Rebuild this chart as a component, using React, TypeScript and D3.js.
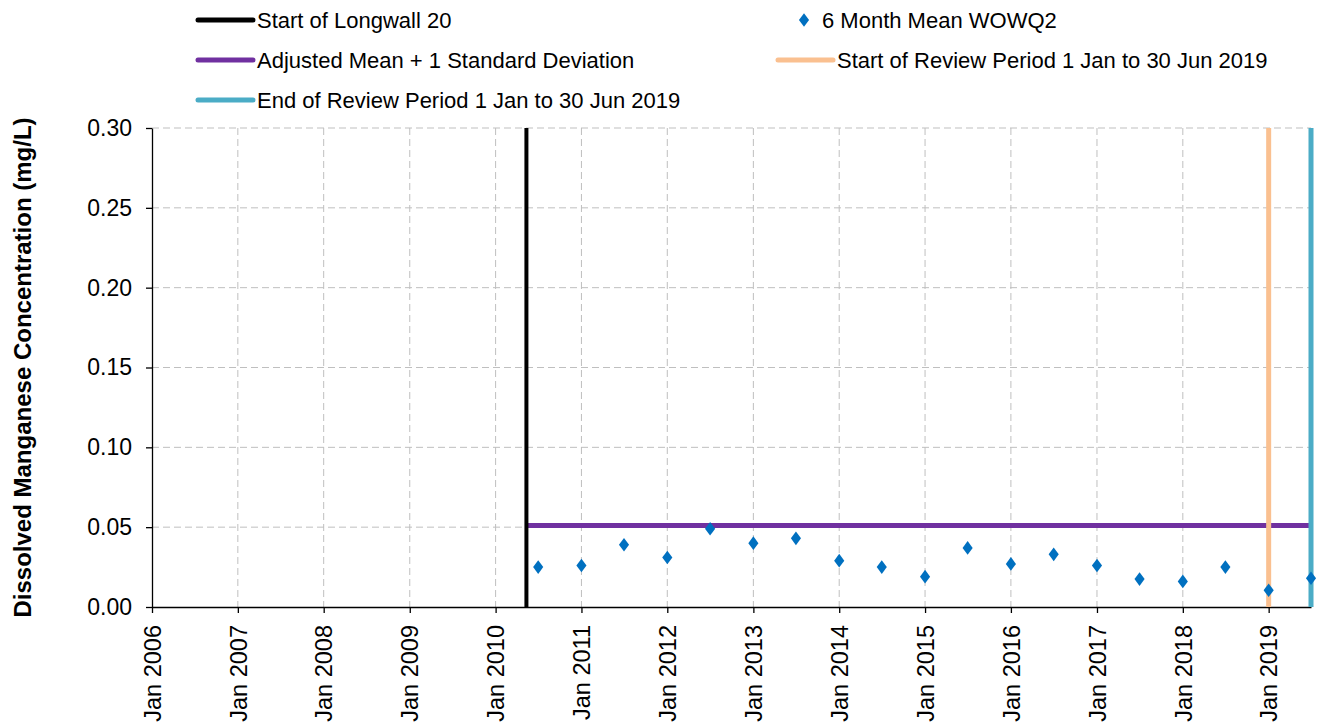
import { useEffect, useRef } from "react";
import * as d3 from "d3";

// Tick years shown on the x axis
const tickYears = [2006, 2007, 2008, 2009, 2010, 2011, 2012, 2013, 2014, 2015, 2016, 2017, 2018, 2019];
const yTicks = [0, 0.05, 0.1, 0.15, 0.2, 0.25, 0.3];

// 6 month means (WOWQ2)
const meanDates = [
  "2010-07-01", "2011-01-01", "2011-07-01", "2012-01-01", "2012-07-01",
  "2013-01-01", "2013-07-01", "2014-01-01", "2014-07-01", "2015-01-01",
  "2015-07-01", "2016-01-01", "2016-07-01", "2017-01-01", "2017-07-01",
  "2018-01-01", "2018-07-01", "2019-01-01", "2019-06-30",
];
const meanValues = [
  0.025, 0.026, 0.039, 0.031, 0.049,
  0.040, 0.043, 0.029, 0.025, 0.019,
  0.037, 0.027, 0.033, 0.026, 0.0175,
  0.016, 0.025, 0.0105, 0.018,
];

const longwallStart = "2010-05-12";
const reviewStart = "2019-01-01";
const reviewEnd = "2019-06-30";
const triggerValue = 0.051;

// diamond marker, a bit taller than wide
const diamondType = {
  draw(ctx: any, size: number) {
    const w = Math.sqrt(size) * 0.55;
    const h = w * 1.35;
    ctx.moveTo(0, -h);
    ctx.lineTo(w, 0);
    ctx.lineTo(0, h);
    ctx.lineTo(-w, 0);
    ctx.closePath();
  },
};

const App = () => {
  const svgRef = useRef<SVGSVGElement>(null);

  useEffect(() => {
    const W = 1324;
    const H = 726;
    const margin = { top: 128, right: 13, bottom: 119, left: 152 };
    const width = W - margin.left - margin.right;
    const height = H - margin.top - margin.bottom;
    const font = "Arial, 'Liberation Sans', sans-serif";
    const parse = d3.utcParse("%Y-%m-%d");

    d3.select(svgRef.current).selectAll("*").remove();

    const root = d3
      .select(svgRef.current)
      .attr("width", W)
      .attr("height", H)
      .style("font-family", font);

    const svg = root.append("g").attr("transform", `translate(${margin.left},${margin.top})`);

    const x = d3
      .scaleUtc()
      .domain([new Date(Date.UTC(2006, 0, 1)), parse(reviewEnd)!])
      .range([0, width]);

    const y = d3.scaleLinear().domain([0, 0.3]).range([height, 0]);

    const tickDates = tickYears.map((yr) => new Date(Date.UTC(yr, 0, 1)));

    // grid lines
    svg
      .append("g")
      .selectAll("line.h")
      .data(yTicks.filter((d) => d > 0))
      .enter()
      .append("line")
      .attr("x1", 0)
      .attr("x2", width)
      .attr("y1", (d) => y(d))
      .attr("y2", (d) => y(d))
      .attr("stroke", "#bfbfbf")
      .attr("stroke-width", 1)
      .attr("stroke-dasharray", "7,4");

    svg
      .append("g")
      .selectAll("line.v")
      .data(tickDates.slice(1))
      .enter()
      .append("line")
      .attr("x1", (d) => x(d))
      .attr("x2", (d) => x(d))
      .attr("y1", 0)
      .attr("y2", height)
      .attr("stroke", "#bfbfbf")
      .attr("stroke-width", 1)
      .attr("stroke-dasharray", "7,4");

    // X axis
    const xAxis = svg
      .append("g")
      .attr("transform", `translate(0,${height})`)
      .call(
        d3
          .axisBottom(x)
          .tickValues(tickDates)
          .tickSize(6)
          .tickSizeOuter(0)
          .tickFormat((d) => `Jan ${(d as Date).getUTCFullYear()}`)
      );
    xAxis.select(".domain").attr("stroke", "#000").attr("stroke-width", 1.3);
    xAxis.selectAll("line").attr("stroke", "#000").attr("stroke-width", 1.3);
    xAxis
      .selectAll("text")
      .attr("transform", "rotate(-90)")
      .attr("text-anchor", "end")
      .attr("x", -18)
      .attr("y", 0)
      .attr("dy", "0.35em")
      .attr("fill", "#000")
      .style("font-family", font)
      .style("font-size", "23.5px");

    // Y axis
    const yAxis = svg
      .append("g")
      .call(
        d3
          .axisLeft(y)
          .tickValues(yTicks)
          .tickSize(6)
          .tickSizeOuter(0)
          .tickFormat(d3.format(".2f"))
      );
    yAxis.select(".domain").attr("stroke", "#000").attr("stroke-width", 1.3);
    yAxis.selectAll("line").attr("stroke", "#000").attr("stroke-width", 1.3);
    yAxis
      .selectAll("text")
      .attr("x", -20)
      .attr("fill", "#000")
      .style("font-family", font)
      .style("font-size", "23px");

    root
      .append("text")
      .attr("transform", `translate(23,${margin.top + height / 2}) rotate(-90)`)
      .attr("text-anchor", "middle")
      .attr("dy", "0.35em")
      .style("font-size", "24px")
      .style("font-weight", "bold")
      .attr("fill", "#000")
      .text("Dissolved Manganese Concentration (mg/L)");

    // trigger level line
    svg
      .append("line")
      .attr("x1", x(parse(longwallStart)!))
      .attr("x2", width)
      .attr("y1", y(triggerValue))
      .attr("y2", y(triggerValue))
      .attr("stroke", "#7030a0")
      .attr("stroke-width", 5);

    // vertical markers
    const markers = [
      { date: longwallStart, color: "#000000", w: 4 },
      { date: reviewStart, color: "#fac090", w: 5 },
      { date: reviewEnd, color: "#4bacc6", w: 5 },
    ];
    svg
      .selectAll("line.marker")
      .data(markers)
      .enter()
      .append("line")
      .attr("x1", (d) => x(parse(d.date)!))
      .attr("x2", (d) => x(parse(d.date)!))
      .attr("y1", 0)
      .attr("y2", height)
      .attr("stroke", (d) => d.color)
      .attr("stroke-width", (d) => d.w);

    // 6 month means
    const diamond = d3.symbol().type(diamondType as any).size(85);
    svg
      .selectAll("path.pt")
      .data(meanDates.map((d, i) => ({ date: parse(d)!, value: meanValues[i] })))
      .enter()
      .append("path")
      .attr("d", diamond)
      .attr("transform", (d) => `translate(${x(d.date)},${y(d.value)})`)
      .attr("fill", "#0070c0");

    // legend
    const legendItems = [
      { label: "Start of Longwall 20", color: "#000000", kind: "line", lx: 198, ly: 20 },
      { label: "6 Month Mean WOWQ2", color: "#0070c0", kind: "point", lx: 778, ly: 20 },
      { label: "Adjusted Mean + 1 Standard Deviation", color: "#7030a0", kind: "line", lx: 198, ly: 60 },
      { label: "Start of Review Period 1 Jan to 30 Jun 2019", color: "#fac090", kind: "line", lx: 778, ly: 60 },
      { label: "End of Review Period 1 Jan to 30 Jun 2019", color: "#4bacc6", kind: "line", lx: 198, ly: 100 },
    ];
    const legend = root.append("g");
    legendItems.forEach((d) => {
      const g = legend.append("g").attr("transform", `translate(${d.lx},${d.ly})`);
      if (d.kind === "line") {
        g.append("line")
          .attr("x1", 0)
          .attr("x2", 55)
          .attr("y1", 0)
          .attr("y2", 0)
          .attr("stroke", d.color)
          .attr("stroke-width", 5)
          .attr("stroke-linecap", "round");
      } else {
        g.append("path")
          .attr("d", diamond)
          .attr("transform", "translate(26,0)")
          .attr("fill", d.color);
      }
      g.append("text")
        .attr("x", d.kind === "line" ? 59 : 44)
        .attr("y", 0)
        .attr("dy", "0.35em")
        .style("font-size", "22px")
        .attr("fill", "#000")
        .text(d.label);
    });
  }, []);

  return <svg ref={svgRef} style={{ position: "absolute", left: 0, top: 0 }}></svg>;
};

export default App;
